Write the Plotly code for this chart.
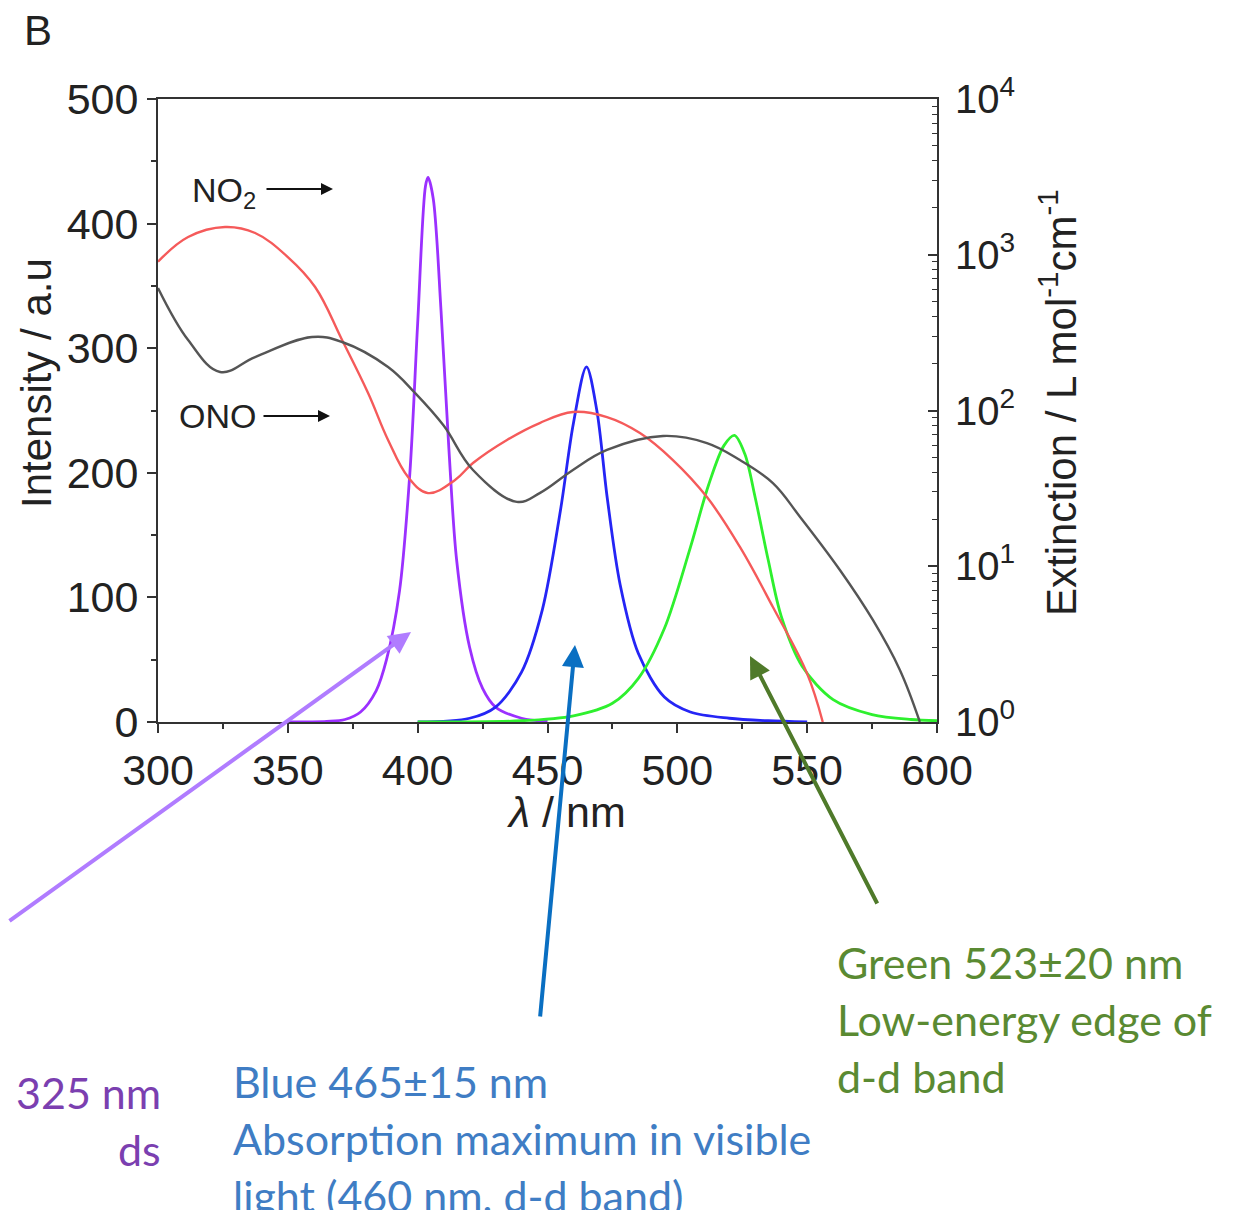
import plotly.graph_objects as go

# ---- data ----
wl_no2 = [300, 311.6, 325.8, 337.4, 350, 360.5, 370.9, 380.9, 388.6, 396.3, 404, 414.4, 421.3, 434.4,
          447, 459.8, 472.9, 485.6, 498.3, 511.4, 524.1, 536.8, 549.9, 556]
ext_no2 = [902, 1300, 1507, 1379, 967, 621, 283.5, 129.5, 64.7, 37.4, 29.5, 35.8, 46.0, 64.7,
           83.1, 97.8, 90.8, 71.7, 48.1, 27.8, 13.3, 5.47, 2.06, 1.0]

wl_ono = [300, 311.6, 323.9, 337.4, 359.3, 370.9, 388.6, 399, 410, 421.3, 438.2, 447, 459.8, 472.9,
          494.5, 511.4, 524.1, 536.8, 547.2, 562.6, 575.3, 585.7, 593.4]
ext_ono = [612, 283.5, 176.7, 220.5, 296.4, 275.3, 190.2, 129.5, 80.0, 41.5, 25.9, 29.5, 41.5, 55.8,
           68.6, 61.8, 48.1, 34.2, 20.8, 9.46, 4.52, 2.16, 1.0]

wl_violet = [350, 365, 372, 378, 384, 388, 393, 397, 400, 403, 404, 406, 409, 412, 415, 420, 425, 430, 440, 450]
int_violet = [0, 0.5, 2, 8, 25, 50, 105, 200, 320, 430, 437, 420, 330, 220, 130, 60, 27, 12, 3, 0.5]

wl_blue = [400, 420, 430, 440, 448, 455, 460, 465, 469, 473, 478, 485, 495, 505, 520, 535, 550]
int_blue = [0, 3, 12, 40, 90, 170, 240, 285, 250, 180, 110, 55, 20, 8, 3, 1, 0]

wl_green = [400, 440, 460, 475, 485, 495, 505, 512, 518, 522, 526, 530, 535, 540, 548, 560, 575, 590, 600]
int_green = [0, 1, 5, 15, 35, 75, 140, 190, 222, 230, 215, 180, 130, 85, 45, 18, 6, 2, 1]

x_ticks = [300, 350, 400, 450, 500, 550, 600]
y_ticks = [0, 100, 200, 300, 400, 500]
y2_ticks = [1, 10, 100, 1000, 10000]
y2_ticktext = ["10<sup>0</sup>", "10<sup>1</sup>", "10<sup>2</sup>", "10<sup>3</sup>", "10<sup>4</sup>"]
y2_minor = [m * 10 ** k for k in range(4) for m in range(2, 10)]

# ---- geometry (reference page pixels; the page body has an 8px margin) ----
OFF = 8
W, H = 1234 - 2 * OFF, 1218 - 2 * OFF
L, R, T, B = 158 - OFF, 937 - OFF, 99 - OFF, 722 - OFF

fig = go.Figure()
fig.add_trace(go.Scatter(x=wl_violet, y=int_violet, mode="lines", line=dict(color="#9B30FF", width=2.8, shape="spline", smoothing=0.9)))
fig.add_trace(go.Scatter(x=wl_blue, y=int_blue, mode="lines", line=dict(color="#2525F5", width=2.8, shape="spline", smoothing=0.9)))
fig.add_trace(go.Scatter(x=wl_green, y=int_green, mode="lines", line=dict(color="#2EF02E", width=2.8, shape="spline", smoothing=0.9)))
fig.add_trace(go.Scatter(x=wl_no2, y=ext_no2, mode="lines", yaxis="y2", line=dict(color="#F55A5A", width=2.4, shape="spline", smoothing=1.1)))
fig.add_trace(go.Scatter(x=wl_ono, y=ext_ono, mode="lines", yaxis="y2", line=dict(color="#555555", width=2.4, shape="spline", smoothing=1.1)))

axcol = "#333333"
arial = "Liberation Sans, Arial"
tickfont = dict(family=arial, size=43, color="#222222")

fig.update_layout(
    width=W, height=H, autosize=False,
    margin=dict(l=L, r=W - R, t=T, b=H - B, pad=0),
    paper_bgcolor="white", plot_bgcolor="white",
    showlegend=False,
    xaxis=dict(range=[300, 600], tickvals=x_ticks, ticks="outside", ticklen=9, tickwidth=2, tickcolor=axcol,
               showline=True, linecolor=axcol, linewidth=2, mirror=True, showgrid=False, zeroline=False,
               tickfont=tickfont, minor=dict(ticks="outside", ticklen=5, tickwidth=1.5, tickcolor=axcol, dtick=25)),
    yaxis=dict(range=[0, 500], tickvals=y_ticks, ticks="outside", ticklen=9, tickwidth=2, tickcolor=axcol,
               showline=True, linecolor=axcol, linewidth=2, showgrid=False, zeroline=False,
               tickfont=tickfont, minor=dict(ticks="outside", ticklen=5, tickwidth=1.5, tickcolor=axcol, dtick=50)),
    yaxis2=dict(type="log", range=[0, 4], overlaying="y", side="right", tickvals=y2_ticks, ticktext=y2_ticktext,
                ticks="inside", ticklen=9, tickwidth=2, tickcolor=axcol, showline=True, linecolor=axcol, linewidth=2,
                showgrid=False, zeroline=False, tickfont=dict(family=arial, size=40, color="#222222"),
                ticklabelstandoff=8,
                minor=dict(ticks="inside", ticklen=5, tickwidth=1.2, tickcolor=axcol, tickvals=y2_minor)),
)


def px(x):
    return (x - OFF - L) / (R - L)


def py(y):
    return (B - (y - OFF)) / (B - T)


ann = []
# panel label and axis titles
ann.append(dict(x=px(38), y=py(30), xref="paper", yref="paper", text="B", showarrow=False,
                font=dict(family=arial, size=42, color="#222222"), xanchor="center", yanchor="middle"))
ann.append(dict(x=px(36), y=py(383), xref="paper", yref="paper", text="Intensity / a.u", showarrow=False, textangle=-90,
                font=dict(family=arial, size=42, color="#222222"), xanchor="center", yanchor="middle"))
ann.append(dict(x=px(1058), y=py(403), xref="paper", yref="paper", text="Extinction / L mol<sup>-1</sup>cm<sup>-1</sup>",
                showarrow=False, textangle=-90,
                font=dict(family=arial, size=42, color="#222222"), xanchor="center", yanchor="middle"))
ann.append(dict(x=px(566), y=py(812), xref="paper", yref="paper", text="<i>λ</i> / nm", showarrow=False,
                font=dict(family=arial, size=43, color="#222222"), xanchor="center", yanchor="middle"))
# NO2 / ONO labels with arrows
ann.append(dict(x=px(224), y=py(192), xref="paper", yref="paper", text="NO<sub>2</sub>", showarrow=False,
                font=dict(family=arial, size=34, color="#222222"), xanchor="center", yanchor="middle"))
ann.append(dict(x=px(333), y=py(189), xref="paper", yref="paper", ax=-68, ay=0, showarrow=True, text="",
                arrowhead=2, arrowsize=1.2, arrowwidth=2, arrowcolor="#111111"))
ann.append(dict(x=px(217), y=py(416), xref="paper", yref="paper", text="ONO", showarrow=False,
                font=dict(family=arial, size=34, color="#222222"), xanchor="center", yanchor="middle"))
ann.append(dict(x=px(330), y=py(416), xref="paper", yref="paper", ax=-68, ay=0, showarrow=True, text="",
                arrowhead=2, arrowsize=1.2, arrowwidth=2, arrowcolor="#111111"))
# big pointer arrows
ann.append(dict(x=px(411), y=py(632), xref="paper", yref="paper", ax=-419, ay=290, showarrow=True, text="",
                arrowhead=2, arrowsize=1.1, arrowwidth=4, arrowcolor="#B07CFF"))
ann.append(dict(x=px(575), y=py(645), xref="paper", yref="paper", ax=-35, ay=373, showarrow=True, text="",
                arrowhead=2, arrowsize=1.1, arrowwidth=4, arrowcolor="#0A6FC2"))
ann.append(dict(x=px(750), y=py(656), xref="paper", yref="paper", ax=128, ay=249, showarrow=True, text="",
                arrowhead=2, arrowsize=1.1, arrowwidth=4, arrowcolor="#4F7A2A"))

cal = "Lato, Open Sans, sans-serif"
green_lines = ["Green 523±20 nm", "Low-energy edge of", "d-d band"]
for i, t in enumerate(green_lines):
    ann.append(dict(x=px(835), y=py(962 + 57 * i), xref="paper", yref="paper", text=t, showarrow=False,
                    xanchor="left", yanchor="middle", font=dict(family=cal, size=43, color="#5A8A32")))
blue_lines = ["Blue 465±15 nm", "Absorption maximum in visible", "light (460 nm, d-d band)"]
for i, t in enumerate(blue_lines):
    ann.append(dict(x=px(231), y=py(1081 + 57 * i), xref="paper", yref="paper", text=t, showarrow=False,
                    xanchor="left", yanchor="middle", font=dict(family=cal, size=43, color="#3F7DC4")))
purple_lines = ["n 325 nm", "ds"]
for i, t in enumerate(purple_lines):
    ann.append(dict(x=px(163), y=py(1092 + 57 * i), xref="paper", yref="paper", text=t, showarrow=False,
                    xanchor="right", yanchor="middle", font=dict(family=cal, size=43, color="#7B3FB0")))

fig.update_layout(annotations=ann)
fig.write_html("out.html")
